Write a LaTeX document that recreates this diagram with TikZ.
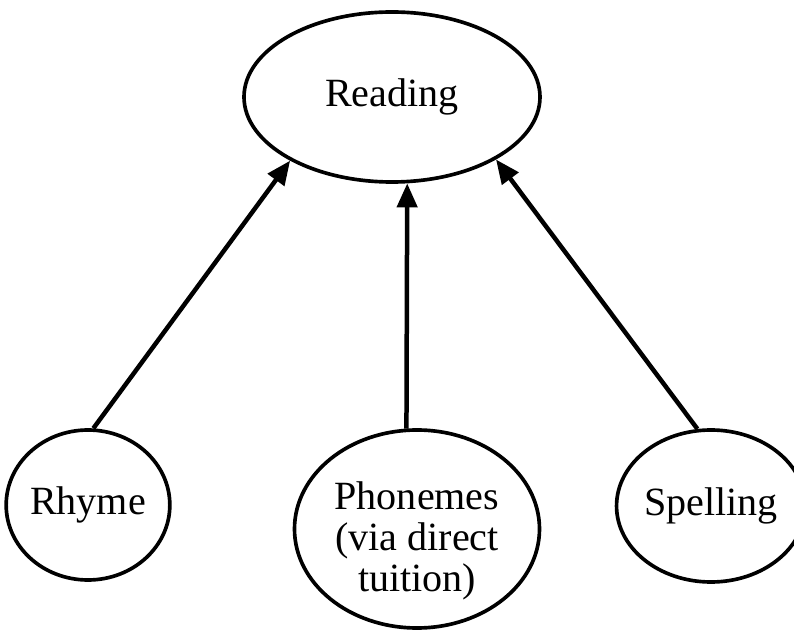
\documentclass[tikz,border=0pt]{standalone}
\usepackage{fontspec}
\setmainfont{Liberation Serif}
\usetikzlibrary{shapes.geometric,arrows.meta}
\tikzset{
    bubble/.style={ % ellipse round each word
        draw,
        shape=ellipse,
        line width=2.6pt,
        inner sep=0pt,
        font=\fontsize{28.5}{29}\selectfont
    },
    link/.style={ % arrows going up to Reading
        -{Triangle[length=0.6cm,width=0.5cm]},
        line width=3.2pt
    }
}

\begin{document}
\begin{tikzpicture}
    \useasboundingbox (0,0) rectangle (19.85,15.75);

    \node [bubble, minimum width=7.4cm, minimum height=4.25cm] (reading) at (9.8,13.325) {Reading};
    \node [bubble, minimum width=3.875cm, minimum height=3.75cm] (rhyme) at (2.2,3.125) {Rhyme};
    \node [bubble, minimum width=6.125cm, minimum height=4.95cm] (phon) at (10.425,2.525) {};
    \node [align=center, font=\fontsize{28.5}{29}\selectfont] (phontext) at ([yshift=-0.3cm]phon.center) {Phonemes\\(via direct\\tuition)};
    \node [bubble, minimum width=4.15cm, minimum height=3.8cm] (spelling) at (17.775,3.1) {Spelling};

    \draw [link] (rhyme.86) -- (reading.212);
    \draw [link] (phon.96) -- (reading.-80);
    \draw [link] (spelling.100) -- (reading.-31);
\end{tikzpicture}
\end{document}
